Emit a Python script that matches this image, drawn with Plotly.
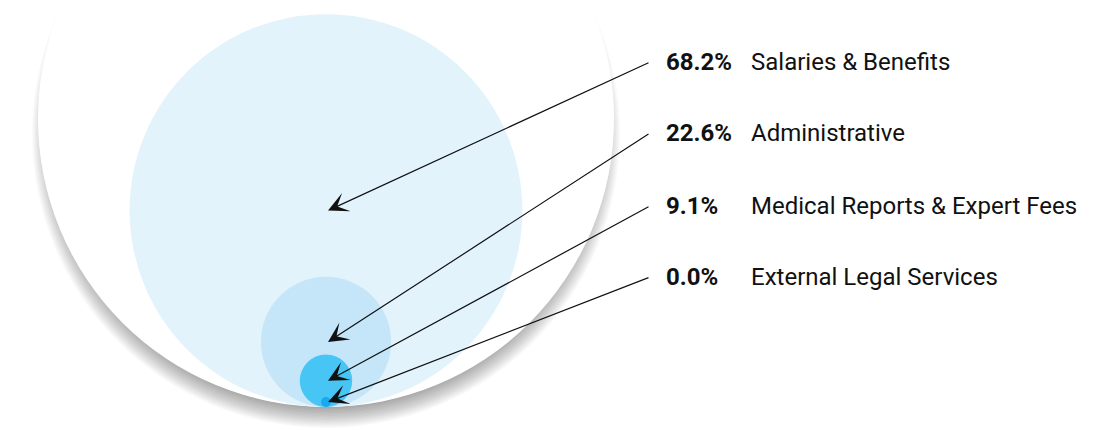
import plotly.graph_objects as go

# Data
categories = ["Salaries & Benefits", "Administrative", "Medical Reports & Expert Fees", "External Legal Services"]
percents = [68.2, 22.6, 9.1, 0.0]
pct_labels = ["68.2%", "22.6%", "9.1%", "0.0%"]
colors = ["#E3F3FC", "#C4E6F8", "#47C6F5", "#1BA9EE"]
total = 100.0

W, H = 1103, 430
scale = 2.88          # px per percent (radius proportional to value)
min_r = 5.0
cx, base_y = 326, 407  # common tangent point at bottom

fig = go.Figure()
shapes = []
annotations = []

def circle(x, y, r, fill):
    return dict(type="circle", xref="x", yref="y",
                x0=x - r, x1=x + r, y0=y - r, y1=y + r,
                fillcolor=fill, line=dict(width=0), layer="above")

# outer circle with soft shadow
R = total * scale
n = 16
for i in range(n):
    spread = -14 + i * (20 / (n - 1))
    shapes.append(circle(cx, base_y - R + 15, R + spread, "rgba(0,0,0,0.022)"))
shapes.append(circle(cx, base_y - R, R, "#FFFFFF"))

# inner circles
centers = []
for p, col in zip(percents, colors):
    r = max(p * scale, min_r)
    cy = base_y - r
    centers.append((cx + 2, cy))
    shapes.append(circle(cx, cy, r, col))

rows_y = [62, 133, 206, 277]
for (hx, hy), ry, pl, cat in zip(centers, rows_y, pct_labels, categories):
    annotations.append(dict(x=hx, y=hy, ax=650, ay=ry, xref="x", yref="y",
                            axref="x", ayref="y", showarrow=True, text="",
                            arrowhead=3, arrowsize=2.8, arrowwidth=1.2,
                            arrowcolor="#111111", standoff=0))
    annotations.append(dict(x=664, y=ry, xref="x", yref="y", text="<b>" + pl + "</b>",
                            showarrow=False, xanchor="left", yanchor="middle",
                            font=dict(family="Roboto", size=24, color="#111111")))
    annotations.append(dict(x=749, y=ry, xref="x", yref="y", text=cat,
                            showarrow=False, xanchor="left", yanchor="middle",
                            font=dict(family="Roboto", size=24, color="#111111")))

fig.update_layout(
    width=W, height=H,
    margin=dict(l=0, r=0, t=0, b=0),
    paper_bgcolor="white", plot_bgcolor="white",
    xaxis=dict(range=[0, W], visible=False, fixedrange=True),
    yaxis=dict(range=[H, 0], visible=False, fixedrange=True),
    shapes=shapes, annotations=annotations, showlegend=False,
)
fig.write_html("out.html", config={"displayModeBar": False},
               post_script="document.body.style.margin='0';document.body.style.overflow='hidden';")
